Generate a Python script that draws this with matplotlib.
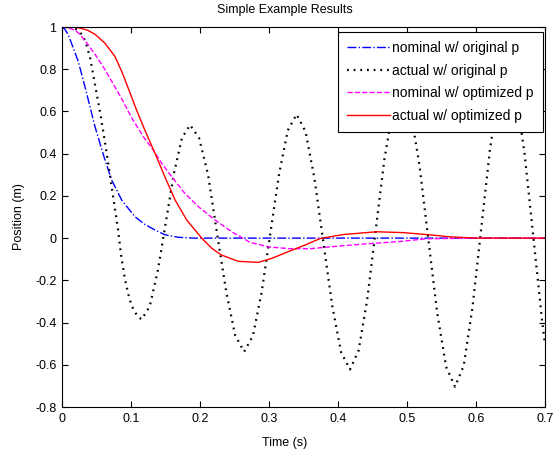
import numpy as np
import matplotlib
matplotlib.use('Agg')
import matplotlib.pyplot as plt

# nominal w/ original p
t_nom_orig = [0, 0.004, 0.009, 0.0164, 0.0237, 0.0333, 0.0406, 0.0478, 0.055, 0.0623, 0.072,
              0.0865, 0.1058, 0.12, 0.135, 0.149, 0.168, 0.19, 0.25, 0.4, 0.55, 0.7]
y_nom_orig = [1, 0.99, 0.964, 0.90, 0.835, 0.717, 0.622, 0.528, 0.449, 0.37, 0.275,
              0.18, 0.101, 0.065, 0.038, 0.016, 0.004, 0, 0, 0, 0, 0]

# actual w/ original p
t_act_orig = [0, 0.01, 0.02, 0.026, 0.031, 0.036, 0.041, 0.046, 0.051, 0.056, 0.061, 0.066,
              0.071, 0.076, 0.081, 0.086, 0.091, 0.096, 0.101, 0.106, 0.111, 0.1155,
              0.1272, 0.1388, 0.1505, 0.1622, 0.1738, 0.1855,
              0.1986, 0.2117, 0.2248, 0.2378, 0.2509, 0.264,
              0.2767, 0.2893, 0.302, 0.3147, 0.3273, 0.340,
              0.3529, 0.3658, 0.3787, 0.3916, 0.4045, 0.4174,
              0.4298, 0.4423, 0.4547, 0.4671, 0.4796, 0.492,
              0.5049, 0.5179, 0.5308, 0.5437, 0.5567, 0.5696,
              0.5822, 0.5948, 0.6075, 0.6201, 0.6327, 0.6453,
              0.6579, 0.6705, 0.6831, 0.6957, 0.7]
y_act_orig = [1.0, 0.998, 0.99, 0.975, 0.955, 0.91, 0.85, 0.76, 0.67, 0.58, 0.48, 0.375,
              0.265, 0.155, 0.045, -0.09, -0.19, -0.265, -0.32, -0.352, -0.375, -0.385,
              -0.323, -0.155, 0.0755, 0.306, 0.474, 0.536,
              0.475, 0.30, 0.02, -0.25, -0.46, -0.538,
              -0.463, -0.257, 0.024, 0.305, 0.511, 0.586,
              0.505, 0.284, -0.018, -0.32, -0.541, -0.622,
              -0.533, -0.292, 0.039, 0.370, 0.611, 0.70,
              0.606, 0.349, -0.002, -0.353, -0.610, -0.704,
              -0.604, -0.331, 0.043, 0.417, 0.690, 0.79,
              0.685, 0.397, 0.005, -0.388, -0.505]

# nominal w/ optimized p
t_nom_opt = [0, 0.01, 0.019, 0.026, 0.038, 0.048, 0.06, 0.0744, 0.0865, 0.101, 0.118, 0.1323,
             0.1445, 0.159, 0.178, 0.1976, 0.2217, 0.246, 0.2725, 0.30, 0.33, 0.36, 0.393,
             0.4415, 0.49, 0.5285, 0.6, 0.7]
y_nom_opt = [1, 0.995, 0.985, 0.965, 0.915, 0.87, 0.81, 0.73, 0.66, 0.57, 0.48, 0.417,
             0.354, 0.291, 0.212, 0.149, 0.086, 0.03, -0.02, -0.042, -0.05, -0.05, -0.04,
             -0.027, -0.016, -0.003, 0, 0]

# actual w/ optimized p
t_act_opt = [0, 0.015, 0.026, 0.037, 0.048, 0.0623, 0.0768, 0.0865, 0.096, 0.108, 0.120,
             0.135, 0.149, 0.164, 0.1807, 0.2025, 0.217, 0.231, 0.2555, 0.2845, 0.304, 0.328,
             0.352, 0.374, 0.4077, 0.456, 0.4947, 0.538, 0.562, 0.6, 0.7]
y_act_opt = [1, 1.0, 0.995, 0.985, 0.965, 0.923, 0.86, 0.79, 0.71, 0.607, 0.512,
             0.40, 0.291, 0.18, 0.086, 0.0, -0.048, -0.08, -0.11, -0.115, -0.096, -0.064,
             -0.033, -0.002, 0.017, 0.03, 0.026, 0.014, 0.006, 0.0, 0.0]

xticks = [0, 0.1, 0.2, 0.3, 0.4, 0.5, 0.6, 0.7]
xlabels = ['0', '0.1', '0.2', '0.3', '0.4', '0.5', '0.6', '0.7']
yticks = [-0.8, -0.6, -0.4, -0.2, 0, 0.2, 0.4, 0.6, 0.8, 1]
ylabels = ['-0.8', '-0.6', '-0.4', '-0.2', '0', '0.2', '0.4', '0.6', '0.8', '1']

plt.rcParams['font.family'] = ['Liberation Sans', 'DejaVu Sans']
plt.rcParams['font.size'] = 9

fig = plt.figure(figsize=(5.53, 4.53), dpi=100)
ax = fig.add_axes([62/553, 1-407/453, 483/553, 380/453])

ax.plot(t_nom_orig, y_nom_orig, '-.', color='blue', lw=1, label='nominal w/ original p')
ax.plot(t_act_orig, y_act_orig, color='black', lw=1.6, linestyle=(0, (0.8, 2.2)),
        label='actual w/ original p')
ax.plot(t_nom_opt, y_nom_opt, '--', color='magenta', lw=1, label='nominal w/ optimized p')
ax.plot(t_act_opt, y_act_opt, '-', color='red', lw=1, label='actual w/ optimized p')

ax.set_xlim(0, 0.7)
ax.set_ylim(-0.8, 1)
ax.set_xticks(xticks)
ax.set_xticklabels(xlabels)
ax.set_yticks(yticks)
ax.set_yticklabels(ylabels)
ax.tick_params(direction='in', length=4, width=0.8, top=True, right=True, labelsize=9, pad=4)
for s in ax.spines.values():
    s.set_linewidth(0.8)

ax.set_title('Simple Example Results', fontsize=9, x=(285-62)/483, pad=10)
ax.set_xlabel('Time (s)', fontsize=9)
ax.xaxis.set_label_coords((285-62)/483, -0.08)
ax.set_ylabel('Position (m)', fontsize=9)
ax.yaxis.set_label_coords(-0.077, 0.5)

leg = ax.legend(loc='upper right', bbox_to_anchor=(0.9959, 0.9868), borderaxespad=0,
                fancybox=False, framealpha=1, edgecolor='black', fontsize=10,
                handlelength=3.1, handletextpad=0.15, borderpad=0.65, labelspacing=0.62)
leg.get_frame().set_linewidth(0.8)

plt.savefig('out.png', dpi=100)
